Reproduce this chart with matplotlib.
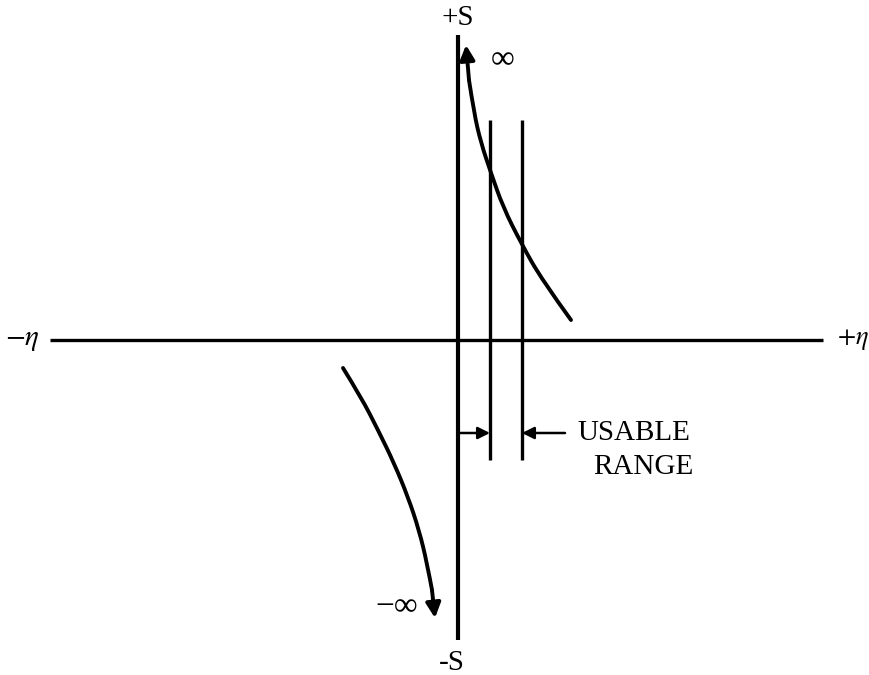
import matplotlib.pyplot as plt
from matplotlib.patches import FancyArrowPatch, PathPatch
from matplotlib.path import Path

# Coordinate frame: origin at the intersection of the eta and S axes
eta_axis = [-408, 365]          # horizontal axis extent
s_axis = [305, -300]            # vertical axis extent (top, bottom)

# Boundaries of the usable range
range_eta = [32, 64]
range_s = [220, -120]
range_arrow_s = -93

# Upper branch (tends to +infinity near the S axis)
upper_eta = [8, 11, 16, 23, 33, 45, 63, 84, 113]
upper_s = [295, 260, 227, 197, 167, 133, 97, 60, 20]

# Lower branch (tends to -infinity near the S axis)
lower_eta = [-115, -97, -80, -64, -50, -39, -31, -26, -23]
lower_s = [-28, -57, -90, -123, -157, -190, -223, -250, -278]

plt.rcParams['font.family'] = ['Liberation Serif', 'DejaVu Serif']


def smooth_path(xs, ys):
    """Quadratic-Bezier path through the end points, using the inner points as controls."""
    pts = list(zip(xs, ys))
    verts = [pts[0]]
    codes = [Path.MOVETO]
    for i in range(1, len(pts) - 2):
        mid = ((pts[i][0] + pts[i + 1][0]) / 2, (pts[i][1] + pts[i + 1][1]) / 2)
        verts += [pts[i], mid]
        codes += [Path.CURVE3, Path.CURVE3]
    verts += [pts[-2], pts[-1]]
    codes += [Path.CURVE3, Path.CURVE3]
    return Path(verts, codes)


fig = plt.figure(figsize=(8.7, 6.75), dpi=100)
ax = fig.add_axes([0, 0, 1, 1])
ax.set_xlim(-458, 412)
ax.set_ylim(-335, 340)
ax.axis('off')

lw = 2.4
ax.plot(eta_axis, [0, 0], color='black', lw=lw, solid_capstyle='butt')
ax.plot([0, 0], s_axis, color='black', lw=lw + 0.6, solid_capstyle='butt')
for e in range_eta:
    ax.plot([e, e], range_s, color='black', lw=lw, solid_capstyle='butt')

# Curves with arrowheads at their asymptotic ends
curve_style = dict(facecolor='none', edgecolor='black', lw=lw + 0.4,
                   capstyle='round', joinstyle='round')
ax.add_patch(PathPatch(smooth_path(upper_eta[1:], upper_s[1:]), **curve_style))
ax.add_patch(FancyArrowPatch((upper_eta[1], upper_s[1]), (upper_eta[0], upper_s[0]),
                             arrowstyle='-|>', mutation_scale=22, color='black',
                             lw=lw + 0.4, shrinkA=0, shrinkB=0))
ax.add_patch(PathPatch(smooth_path(lower_eta[:-1], lower_s[:-1]), **curve_style))
ax.add_patch(FancyArrowPatch((lower_eta[-2], lower_s[-2]), (lower_eta[-1], lower_s[-1]),
                             arrowstyle='-|>', mutation_scale=22, color='black',
                             lw=lw + 0.4, shrinkA=0, shrinkB=0))

# Usable-range arrows
ax.annotate('', xy=(range_eta[0], range_arrow_s), xytext=(0, range_arrow_s),
            arrowprops=dict(arrowstyle='-|>', mutation_scale=18, color='black',
                            lw=1.8, shrinkA=0, shrinkB=0))
ax.annotate('', xy=(range_eta[1], range_arrow_s), xytext=(range_eta[1] + 43, range_arrow_s),
            arrowprops=dict(arrowstyle='-|>', mutation_scale=18, color='black',
                            lw=1.8, shrinkA=0, shrinkB=0))

fs = 21
ax.text(-436, 0, r'$-\eta$', fontsize=fs, ha='center', va='center',
        math_fontfamily='stix')
ax.text(411, 0, r'$+\eta$', fontsize=fs - 2, ha='right', va='center',
        math_fontfamily='stix')
ax.text(0, 322, '+S', fontsize=fs, ha='center', va='center')
ax.text(-6, -323, '-S', fontsize=fs, ha='center', va='center')
ax.text(45, 280, '∞', fontsize=fs + 3, ha='center', va='center')
ax.text(-61, -267, '−∞', fontsize=fs + 3, ha='center', va='center')
ax.text(176, range_arrow_s, 'USABLE', fontsize=fs, ha='center', va='center')
ax.text(185, range_arrow_s - 34, 'RANGE', fontsize=fs, ha='center', va='center')

fig.savefig('out.png', dpi=100, facecolor='white')
